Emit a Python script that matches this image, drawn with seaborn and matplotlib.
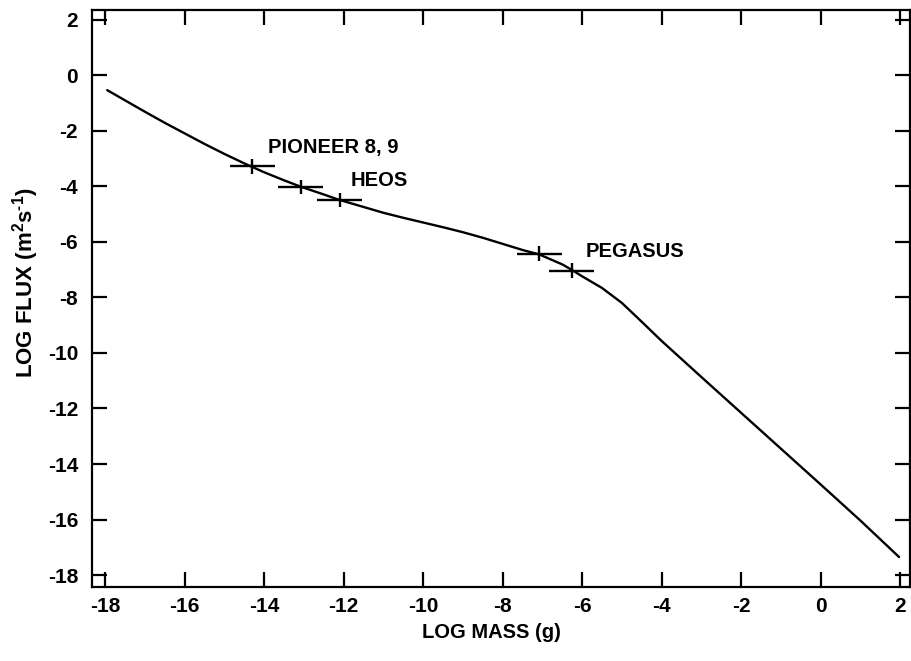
import numpy as np
import pandas as pd
import matplotlib
matplotlib.use("Agg")
import matplotlib.pyplot as plt
import seaborn as sns

# Flux curve (log mass in g, log flux in m^2 s^-1)
log_mass = [-17.95, -17.5, -17.0, -16.5, -16.0, -15.5, -15.0, -14.5, -14.0,
            -13.5, -13.08, -12.5, -12.12, -11.5, -11.0, -10.5, -10.0, -9.5,
            -9.0, -8.5, -8.0, -7.5, -7.08, -6.5, -6.27, -6.0, -5.5, -5.0,
            -4.5, -4.0, -3.0, -2.0, -1.0, 0.0, 1.0, 1.97]
log_flux = [-0.53, -0.90, -1.31, -1.71, -2.09, -2.47, -2.83, -3.17, -3.49,
            -3.78, -4.01, -4.29, -4.48, -4.74, -4.95, -5.13, -5.30, -5.47,
            -5.65, -5.85, -6.07, -6.29, -6.45, -6.81, -7.00, -7.24, -7.66,
            -8.20, -8.88, -9.57, -10.87, -12.16, -13.45, -14.74, -16.04,
            -17.35]

# Measurement crosses
meas_x = [-14.3, -13.08, -12.1, -7.08, -6.27]
meas_y = [-3.28, -4.01, -4.49, -6.42, -7.03]
meas_xerr = [0.57, 0.57, 0.57, 0.56, 0.56]
meas_yerr = [0.26, 0.26, 0.26, 0.26, 0.26]

# Spacecraft labels
label_text = ["PIONEER 8, 9", "HEOS", "PEGASUS"]
label_x = [-13.9, -11.82, -5.92]
label_y = [-2.6, -3.78, -6.36]

x_ticks = list(range(-18, 3, 2))
y_ticks = list(range(-18, 3, 2))

sns.set_style("ticks")
plt.rcParams["font.family"] = ["Liberation Sans", "DejaVu Sans"]
plt.rcParams["font.weight"] = "bold"
plt.rcParams["axes.unicode_minus"] = False
plt.rcParams["mathtext.fontset"] = "custom"
plt.rcParams["mathtext.rm"] = "Liberation Sans:bold"
plt.rcParams["mathtext.default"] = "rm"
for k in ["text.color", "axes.labelcolor", "xtick.color", "ytick.color",
          "axes.edgecolor"]:
    plt.rcParams[k] = "black"

fig = plt.figure(figsize=(9.12, 6.61), dpi=100)
ax = fig.add_axes([0.101, 0.112, 0.897, 0.873])

curve = pd.DataFrame({"mass": log_mass, "flux": log_flux})
sns.lineplot(data=curve, x="mass", y="flux", sort=False, estimator=None,
             color="black", linewidth=1.7, ax=ax)

ax.errorbar(meas_x, meas_y, xerr=meas_xerr, yerr=meas_yerr, fmt="none",
            ecolor="black", elinewidth=1.7, capsize=0)

for t, x, y in zip(label_text, label_x, label_y):
    ax.text(x, y, t, fontsize=14.5, fontweight="bold", va="center", ha="left")

ax.set_xlim(-18.33, 2.25)
ax.set_ylim(-18.43, 2.36)
ax.set_xticks(x_ticks)
ax.set_yticks(y_ticks)
ax.tick_params(direction="in", length=11, width=1.6, top=True, right=True,
               labelsize=15)
ax.tick_params(axis="x", pad=7)
ax.tick_params(axis="y", pad=10)
for lab in ax.get_xticklabels() + ax.get_yticklabels():
    lab.set_fontweight("bold")
for s in ax.spines.values():
    s.set_linewidth(1.6)
    s.set_visible(True)

ax.set_xlabel("LOG MASS (g)", fontsize=14.5, fontweight="bold")
ax.set_ylabel("LOG FLUX (m$^{2}$s$^{\\text{-}1}$)", fontsize=16,
              fontweight="bold")
ax.xaxis.set_label_coords(0.488, -0.062)
ax.yaxis.set_label_coords(-0.063, 0.528)

fig.savefig("out.png", dpi=100)
